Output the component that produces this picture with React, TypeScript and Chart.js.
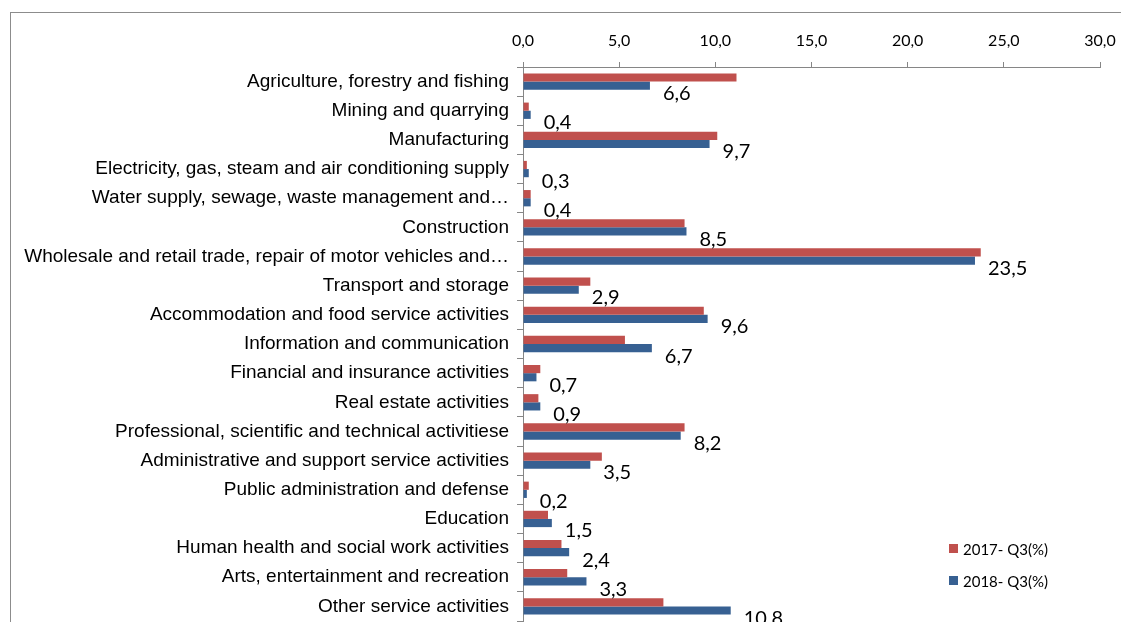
import React, { useEffect, useRef } from "react";
import { Chart, registerables } from "chart.js";

Chart.register(...registerables);

const categories = [
  "Agriculture, forestry and fishing",
  "Mining and quarrying",
  "Manufacturing",
  "Electricity, gas, steam and air conditioning supply",
  "Water supply, sewage, waste management and…",
  "Construction",
  "Wholesale and retail trade, repair of motor vehicles and…",
  "Transport and storage",
  "Accommodation and food service activities",
  "Information and communication",
  "Financial and insurance activities",
  "Real estate activities",
  "Professional, scientific and technical activitiese",
  "Administrative and support service activities",
  "Public administration and defense",
  "Education",
  "Human health and social work activities",
  "Arts, entertainment and recreation",
  "Other service activities",
];

const series2017Label = "2017- Q3(%)";
const series2018Label = "2018- Q3(%)";

const values2017 = [11.1, 0.3, 10.1, 0.2, 0.4, 8.4, 23.8, 3.5, 9.4, 5.3, 0.9, 0.8, 8.4, 4.1, 0.3, 1.3, 2.0, 2.3, 7.3];
const values2018 = [6.6, 0.4, 9.7, 0.3, 0.4, 8.5, 23.5, 2.9, 9.6, 6.7, 0.7, 0.9, 8.2, 3.5, 0.2, 1.5, 2.4, 3.3, 10.8];

const xMin = 0;
const xMax = 30;
const xStep = 5;

const RED = "#C0504D";
const BLUE = "#376092";
const AXIS = "#868686";
const NUM_FONT = "Lato, 'Open Sans', sans-serif";

const fmt = (v: number) => v.toFixed(1).replace(".", ",");

const frameAndLegend = {
  id: "frameAndLegend",
  beforeDraw(chart: any) {
    const ctx = chart.ctx;
    ctx.save();
    ctx.fillStyle = "#ffffff";
    ctx.fillRect(0, 0, chart.width, chart.height);
    ctx.strokeStyle = "#8c8c8c";
    ctx.lineWidth = 1;
    ctx.strokeRect(10.5, 12.5, 1400, 900);
    ctx.restore();
  },
  afterDraw(chart: any) {
    const ctx = chart.ctx;
    ctx.save();
    const items = chart.data.datasets;
    const ys = [549, 581];
    items.forEach((ds: any, i: number) => {
      ctx.fillStyle = ds.backgroundColor;
      ctx.fillRect(949, ys[i] - 5, 9, 9);
      ctx.fillStyle = "#000";
      ctx.font = "15px " + NUM_FONT;
      ctx.textAlign = "left";
      ctx.textBaseline = "middle";
      ctx.fillText(ds.label, 963, ys[i] + 1);
    });
    ctx.restore();
  },
};

const valueLabels = {
  id: "valueLabels",
  afterDatasetsDraw(chart: any) {
    const ctx = chart.ctx;
    const meta = chart.getDatasetMeta(1);
    const data = chart.data.datasets[1].data;
    ctx.save();
    ctx.fillStyle = "#000";
    ctx.font = "20px " + NUM_FONT;
    ctx.textAlign = "left";
    ctx.textBaseline = "middle";
    meta.data.forEach((el: any, i: number) => {
      ctx.fillText(fmt(data[i]), el.x + 13, el.y + 8);
    });
    ctx.restore();
  },
};

export default function App() {
  const ref = useRef<HTMLCanvasElement | null>(null);
  useEffect(() => {
    if (!ref.current) return;
    const chart = new Chart(ref.current, {
      type: "bar",
      data: {
        labels: categories,
        datasets: [
          { label: series2017Label, data: values2017, backgroundColor: RED, borderWidth: 0, categoryPercentage: 0.56, barPercentage: 1 },
          { label: series2018Label, data: values2018, backgroundColor: BLUE, borderWidth: 0, categoryPercentage: 0.56, barPercentage: 1 },
        ],
      },
      options: {
        indexAxis: "y",
        responsive: false,
        animation: false,
        layout: { padding: { left: 10, right: 21, top: 0, bottom: 19 } },
        plugins: { legend: { display: false }, tooltip: { enabled: false } },
        scales: {
          x: {
            position: "top",
            min: xMin,
            max: xMax,
            ticks: {
              stepSize: xStep,
              callback: (v: any) => fmt(Number(v)),
              color: "#000",
              font: { family: NUM_FONT, size: 16 },
              padding: 12,
              maxRotation: 0,
            },
            grid: { drawOnChartArea: false, drawTicks: true, tickLength: 5, color: AXIS },
            border: { color: AXIS },
            afterFit: (s: any) => { s.height = 67; s.paddingRight = 0; s.paddingLeft = 0; },
          },
          y: {
            ticks: {
              color: "#000",
              font: { family: "'Liberation Sans', Arial, sans-serif", size: 19 },
              padding: 8,
              autoSkip: false,
            },
            grid: { offset: true, drawOnChartArea: false, drawTicks: true, tickLength: 6, color: AXIS },
            border: { color: AXIS },
            afterFit: (s: any) => { s.width = 513; s.paddingTop = 0; s.paddingBottom = 0; },
          },
        },
      },
      plugins: [frameAndLegend, valueLabels],
    });
    return () => chart.destroy();
  }, []);
  return (
    <div style={{ position: "fixed", left: 0, top: 0, width: 1121, height: 622, overflow: "hidden", background: "#fff" }}>
      <canvas ref={ref} width={1121} height={640} style={{ display: "block" }} />
    </div>
  );
}
